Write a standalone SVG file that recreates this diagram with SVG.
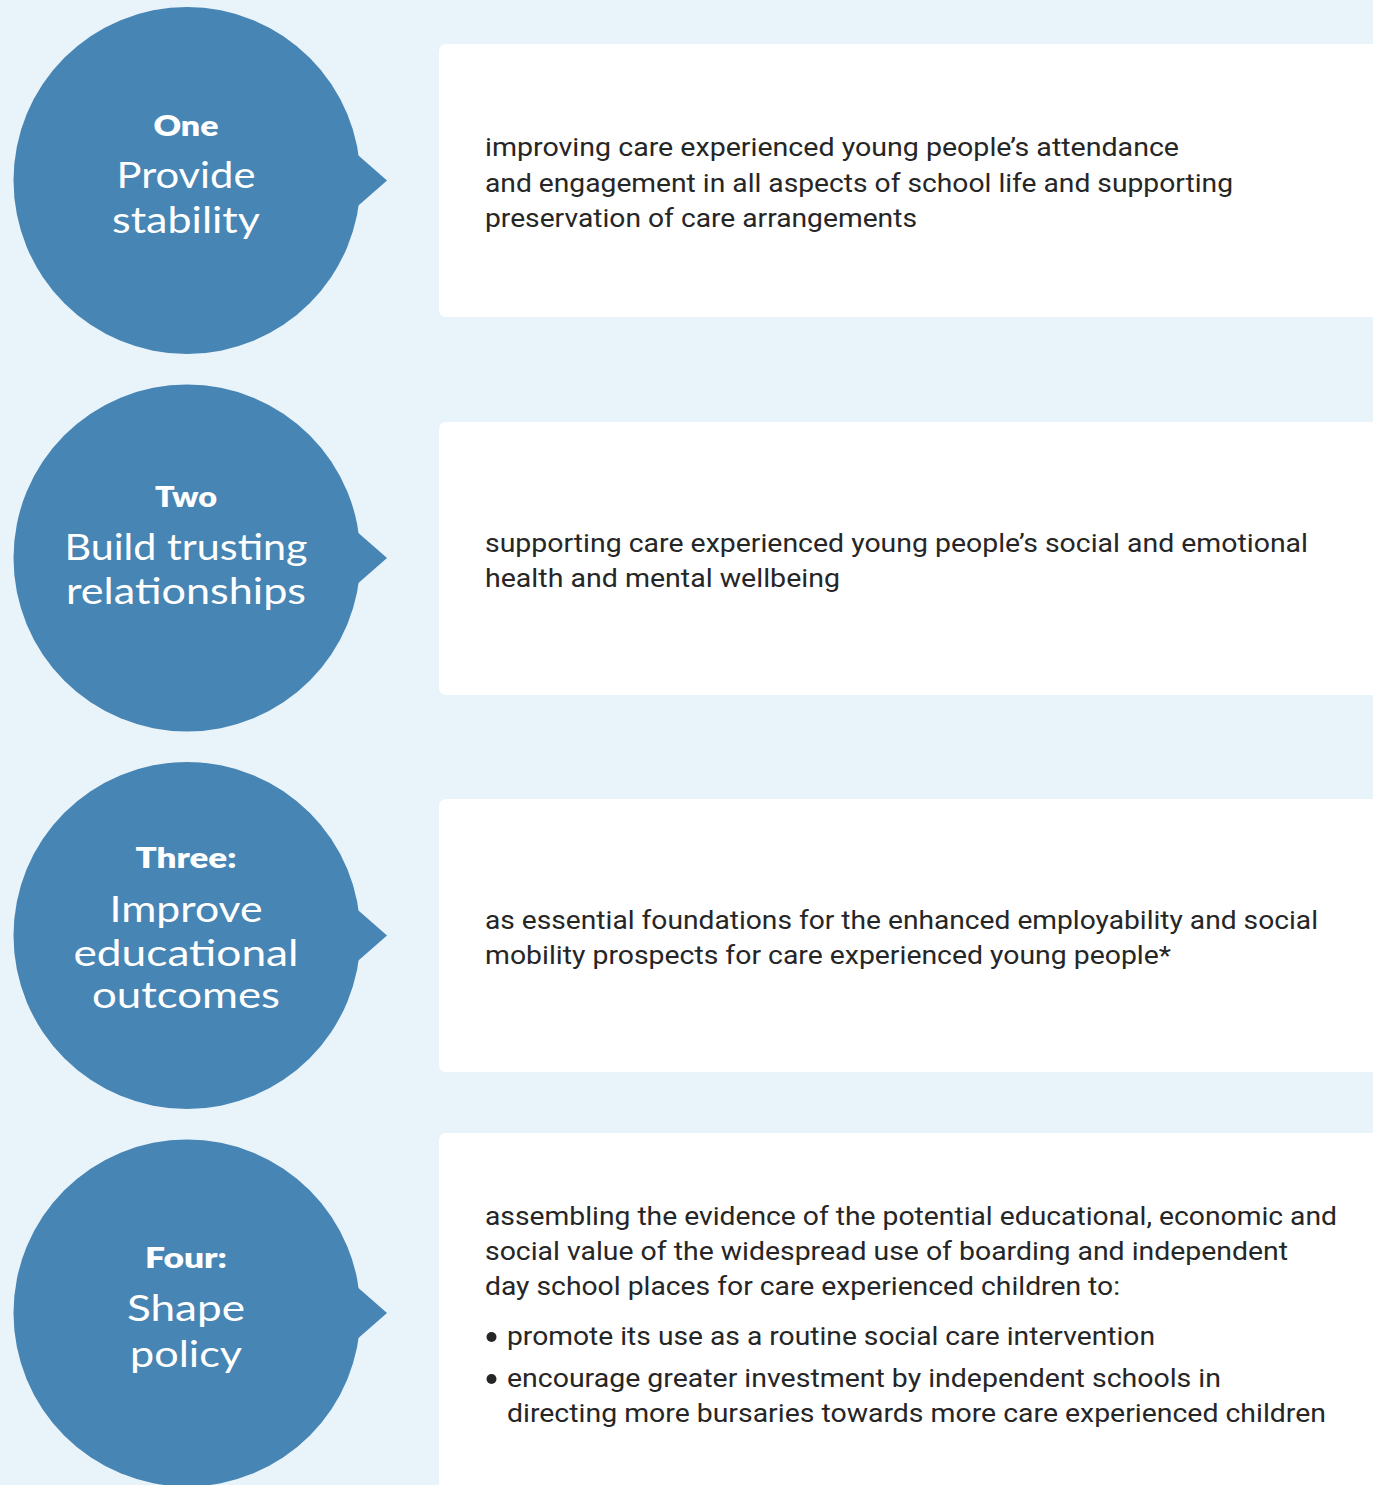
<svg xmlns="http://www.w3.org/2000/svg" width="1373" height="1485" viewBox="0 0 1373 1485">
  <style>
    .bg { fill: #e9f3fa; }
    .bubble { fill: #4785b4; }
    .panel { fill: #ffffff; }
    .num { font-family: "Lato", "Noto Sans", sans-serif; font-weight: 800; font-size: 29px; fill: #ffffff; text-anchor: middle; }
    .title { font-family: "Lato", "Noto Sans", sans-serif; font-weight: 400; font-size: 36px; fill: #ffffff; text-anchor: middle; }
    .body { font-family: "Roboto", "Liberation Sans", sans-serif; font-size: 26.5px; fill: #262626; }
  </style>
  <defs>
    <!-- speech-bubble disc with a pointer on its right side, centred at 0,0 -->
    <g id="bubble">
      <circle class="bubble" cx="0" cy="0" r="173.5"/>
      <polygon class="bubble" points="168,-28 200,0 168,28"/>
    </g>
  </defs>

  <rect class="bg" x="0" y="0" width="1373" height="1485"/>

  <!-- Row one -->
  <g id="node-one">
    <use href="#bubble" x="187" y="180.5"/>
    <text class="num" x="186" y="136" textLength="65" lengthAdjust="spacingAndGlyphs">One</text>
    <text class="title" x="186" y="188" textLength="139" lengthAdjust="spacingAndGlyphs">Provide</text>
    <text class="title" x="186" y="232.5" textLength="148" lengthAdjust="spacingAndGlyphs">stability</text>
  </g>
  <g id="panel-one">
    <rect class="panel" x="439" y="44" width="950" height="273" rx="7"/>
    <text class="body">
      <tspan x="485" y="156" textLength="694" lengthAdjust="spacingAndGlyphs">improving care experienced young people’s attendance</tspan>
      <tspan x="485" y="191.5" textLength="748" lengthAdjust="spacingAndGlyphs">and engagement in all aspects of school life and supporting</tspan>
      <tspan x="485" y="226.5" textLength="432" lengthAdjust="spacingAndGlyphs">preservation of care arrangements</tspan>
    </text>
  </g>

  <!-- Row two -->
  <g id="node-two">
    <use href="#bubble" x="187" y="558"/>
    <text class="num" x="186" y="507" textLength="62" lengthAdjust="spacingAndGlyphs">Two</text>
    <text class="title" x="186" y="559.5" textLength="243" lengthAdjust="spacingAndGlyphs">Build trusting</text>
    <text class="title" x="186" y="603.5" textLength="240" lengthAdjust="spacingAndGlyphs">relationships</text>
  </g>
  <g id="panel-two">
    <rect class="panel" x="439" y="422" width="950" height="273" rx="7"/>
    <text class="body">
      <tspan x="485" y="551.5" textLength="823" lengthAdjust="spacingAndGlyphs">supporting care experienced young people’s social and emotional</tspan>
      <tspan x="485" y="586.5" textLength="355" lengthAdjust="spacingAndGlyphs">health and mental wellbeing</tspan>
    </text>
  </g>

  <!-- Row three -->
  <g id="node-three">
    <use href="#bubble" x="187" y="935.5"/>
    <text class="num" x="186" y="868" textLength="101" lengthAdjust="spacingAndGlyphs">Three:</text>
    <text class="title" x="186" y="921.5" textLength="153" lengthAdjust="spacingAndGlyphs">Improve</text>
    <text class="title" x="186" y="965.5" textLength="225" lengthAdjust="spacingAndGlyphs">educational</text>
    <text class="title" x="186" y="1008" textLength="188" lengthAdjust="spacingAndGlyphs">outcomes</text>
  </g>
  <g id="panel-three">
    <rect class="panel" x="439" y="799" width="950" height="273" rx="7"/>
    <text class="body">
      <tspan x="485" y="928.5" textLength="833" lengthAdjust="spacingAndGlyphs">as essential foundations for the enhanced employability and social</tspan>
      <tspan x="485" y="963.5" textLength="686" lengthAdjust="spacingAndGlyphs">mobility prospects for care experienced young people*</tspan>
    </text>
  </g>

  <!-- Row four -->
  <g id="node-four">
    <use href="#bubble" x="187" y="1313"/>
    <text class="num" x="186" y="1268" textLength="82" lengthAdjust="spacingAndGlyphs">Four:</text>
    <text class="title" x="186" y="1321" textLength="118" lengthAdjust="spacingAndGlyphs">Shape</text>
    <text class="title" x="186" y="1366.5" textLength="112" lengthAdjust="spacingAndGlyphs">policy</text>
  </g>
  <g id="panel-four">
    <rect class="panel" x="439" y="1133" width="950" height="380" rx="7"/>
    <text class="body">
      <tspan x="485" y="1225" textLength="852" lengthAdjust="spacingAndGlyphs">assembling the evidence of the potential educational, economic and</tspan>
      <tspan x="485" y="1260" textLength="803" lengthAdjust="spacingAndGlyphs">social value of the widespread use of boarding and independent</tspan>
      <tspan x="485" y="1295" textLength="635" lengthAdjust="spacingAndGlyphs">day school places for care experienced children to:</tspan>
    </text>
    <circle cx="491.5" cy="1337" r="5" fill="#262626"/>
    <circle cx="491.5" cy="1379" r="5" fill="#262626"/>
    <text class="body">
      <tspan x="507" y="1345" textLength="648" lengthAdjust="spacingAndGlyphs">promote its use as a routine social care intervention</tspan>
      <tspan x="507" y="1387" textLength="714" lengthAdjust="spacingAndGlyphs">encourage greater investment by independent schools in</tspan>
      <tspan x="507" y="1422" textLength="819" lengthAdjust="spacingAndGlyphs">directing more bursaries towards more care experienced children</tspan>
    </text>
  </g>
</svg>
